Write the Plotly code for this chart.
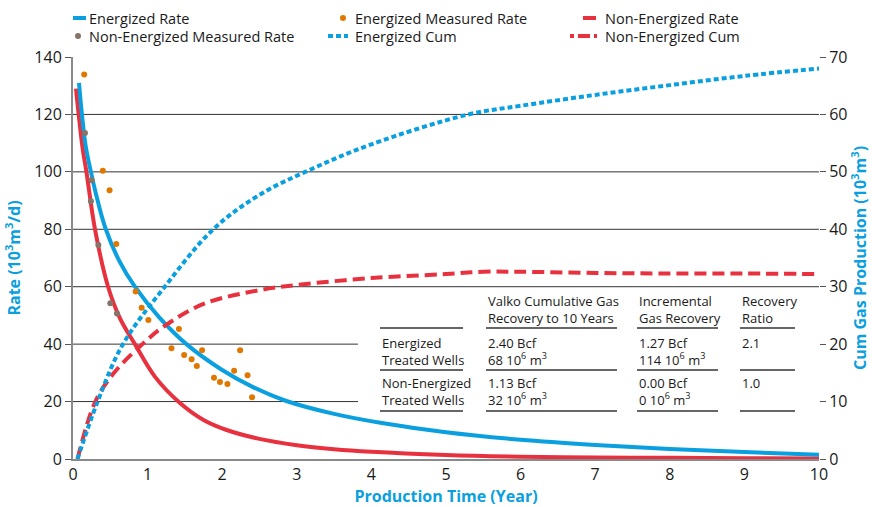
import plotly.graph_objects as go

# ---------------- data ----------------
ER_X = [0.08, 0.12, 0.17, 0.24, 0.33, 0.44, 0.62, 0.83, 1.15, 1.52, 2.0, 2.4, 2.86, 3.5, 4.12, 5.0, 6.0, 7.0, 8.0, 9.0, 10.0]
ER_Y = [131, 120, 109, 100, 90, 80, 69, 60, 49.5, 40, 31, 25.2, 20.2, 15.7, 12.6, 9.3, 6.7, 4.9, 3.5, 2.4, 1.5]

NR_X = [0.04, 0.08, 0.13, 0.18, 0.295, 0.47, 0.63, 0.83, 1.1, 1.43, 1.75, 2.06, 2.5, 3.0, 3.5, 4.0, 5.0, 6.0, 7.0, 8.0, 9.0, 10.0]
NR_Y = [129, 119, 108, 100, 80, 60, 49, 40, 28.6, 19.6, 13.6, 10.1, 7.0, 4.8, 3.4, 2.5, 1.4, 0.8, 0.5, 0.4, 0.3, 0.2]

EM_X = [0.15, 0.40, 0.49, 0.58, 0.84, 0.92, 1.01, 1.32, 1.42, 1.49, 1.59, 1.66, 1.73, 1.89, 1.97, 2.07, 2.16, 2.24, 2.34, 2.40]
EM_Y = [133.9, 100.4, 93.6, 74.9, 58.3, 52.7, 48.4, 38.6, 45.3, 36.2, 34.7, 32.4, 37.9, 28.3, 26.8, 26.1, 30.7, 37.9, 29.2, 21.5]

NM_X = [0.16, 0.25, 0.24, 0.34, 0.50, 0.59]
NM_Y = [113.5, 97.1, 89.8, 74.5, 54.2, 50.7]

EC_X = [0.06, 0.33, 0.67, 1.23, 1.88, 2.5, 3.2, 4.0, 5.3, 6.0, 7.0, 8.0, 9.0, 10.0]
EC_Y = [0, 10, 20, 30, 40, 46, 50.5, 54.8, 60, 61.5, 63.4, 65.1, 66.7, 68]

NC_X = [0.06, 0.3, 0.55, 0.93, 1.21, 1.75, 2.5, 3.0, 4.0, 5.0, 5.5, 6.0, 7.0, 8.0, 9.0, 10.0]
NC_Y = [0, 10, 15, 20, 23, 27, 29.4, 30.3, 31.5, 32.2, 32.6, 32.6, 32.4, 32.3, 32.3, 32.2]

GRID_VALUES = [20, 40, 60, 80, 100, 120]

SERIES_NAMES = ["Energized Rate", "Energized Measured Rate", "Non-Energized Rate",
                "Non-Energized Measured Rate", "Energized Cum", "Non-Energized Cum"]

TABLE_HEADERS = ["", "Valko Cumulative Gas<br>Recovery to 10 Years", "Incremental<br>Gas Recovery", "Recovery<br>Ratio"]
TABLE_ROW1 = ["Energized<br>Treated Wells", "2.40 Bcf<br>68 10<sup>6</sup> m<sup>3</sup>", "1.27 Bcf<br>114 10<sup>6</sup> m<sup>3</sup>", "2.1"]
TABLE_ROW2 = ["Non-Energized<br>Treated Wells", "1.13 Bcf<br>32 10<sup>6</sup> m<sup>3</sup>", "0.00 Bcf<br>0 10<sup>6</sup> m<sup>3</sup>", "1.0"]

# ---------------- styles ----------------
BLUE = "#0AA0E0"
RED = "#E8313F"
ORANGE = "#E07800"
GRAY = "#857468"
FONT = "Open Sans"
TXT = "#1a1a1a"

STYLE = {
    "Energized Rate": dict(kind="line", color=BLUE, dash="solid"),
    "Energized Measured Rate": dict(kind="dot", color=ORANGE),
    "Non-Energized Rate": dict(kind="line", color=RED, dash="solid"),
    "Non-Energized Measured Rate": dict(kind="dot", color=GRAY),
    "Energized Cum": dict(kind="line", color=BLUE, dash="5px,3px"),
    "Non-Energized Cum": dict(kind="line", color=RED, dash="4px,4px,12px,4px"),
}

fig = go.Figure()

fig.add_trace(go.Scatter(x=NC_X, y=NC_Y, yaxis="y2", mode="lines", name=SERIES_NAMES[5],
                         line=dict(color=RED, width=4, dash="12px,6px", shape="spline")))
fig.add_trace(go.Scatter(x=EC_X, y=EC_Y, yaxis="y2", mode="lines", name=SERIES_NAMES[4],
                         line=dict(color=BLUE, width=4, dash="5px,3px", shape="spline")))
fig.add_trace(go.Scatter(x=NR_X, y=NR_Y, mode="lines", name=SERIES_NAMES[2],
                         line=dict(color=RED, width=4, shape="spline")))
fig.add_trace(go.Scatter(x=ER_X, y=ER_Y, mode="lines", name=SERIES_NAMES[0],
                         line=dict(color=BLUE, width=4, shape="spline")))
fig.add_trace(go.Scatter(x=NM_X, y=NM_Y, mode="markers", name=SERIES_NAMES[3],
                         marker=dict(color=GRAY, size=6)))
fig.add_trace(go.Scatter(x=EM_X, y=EM_Y, mode="markers", name=SERIES_NAMES[1],
                         marker=dict(color=ORANGE, size=6)))

shapes = []
annotations = []

# grid lines
for g in GRID_VALUES:
    shapes.append(dict(type="line", xref="paper", yref="y", x0=0, x1=1, y0=g, y1=g,
                       line=dict(color="#333333", width=1), layer="between"))
# table background
shapes.append(dict(type="rect", xref="x", yref="y", x0=3.82, x1=10.05, y0=15.3, y1=58.5,
                   fillcolor="white", line=dict(width=0), layer="between"))

# table rules and text
col_x = [4.115, 5.536, 7.56, 8.94]
col_x1 = [5.228, 7.292, 8.646, 9.678]
line_ys = [45.6, 31.0, 16.7]
for ly in line_ys:
    for a, b in zip(col_x, col_x1):
        shapes.append(dict(type="line", xref="x", yref="y", x0=a, x1=b, y0=ly, y1=ly,
                           line=dict(color="#333333", width=1.5), layer="between"))
first_line_y = [55.0, 40.4, 26.5]     # centre of first text line of each row (rate units)
half_line = 2.96                      # half of one text line height (rate units)
for fy, row in zip(first_line_y, [TABLE_HEADERS, TABLE_ROW1, TABLE_ROW2]):
    for cx, txt in zip(col_x, row):
        if not txt:
            continue
        yc = fy - half_line if "<br>" in txt else fy
        annotations.append(dict(x=cx, y=yc, xref="x", yref="y", text=txt, showarrow=False,
                                xanchor="left", yanchor="middle", align="left",
                                font=dict(family=FONT, size=13, color=TXT)))

# custom legend (3 columns x 2 rows) in paper coordinates
legend_pos = [
    (0.0, 0.0174, 0.0194, 1.097),
    (0.3619, 0.3619, 0.3747, 1.097),
    (0.6836, 0.7011, 0.7098, 1.097),
    (0.0067, 0.0067, 0.0194, 1.052),
    (0.3418, 0.3686, 0.3747, 1.052),
    (0.6662, 0.7024, 0.7098, 1.052),
]
for name, (k0, k1, tx, ry) in zip(SERIES_NAMES, legend_pos):
    st = STYLE[name]
    if st["kind"] == "line":
        shapes.append(dict(type="line", xref="paper", yref="paper", x0=k0, x1=k1, y0=ry, y1=ry,
                           line=dict(color=st["color"], width=4, dash=st["dash"])))
    else:
        shapes.append(dict(type="circle", xref="paper", yref="paper",
                           xsizemode="pixel", ysizemode="pixel", xanchor=k0, yanchor=ry,
                           x0=-3, x1=3, y0=-3, y1=3,
                           fillcolor=st["color"], line=dict(width=0)))
    annotations.append(dict(x=tx, y=ry, xref="paper", yref="paper", text=name, showarrow=False,
                            xanchor="left", yanchor="middle", align="left",
                            font=dict(family=FONT, size=14.5, color=TXT)))

fig.update_layout(
    width=872, height=507,
    margin=dict(l=73, r=53, t=57, b=48),
    paper_bgcolor="white", plot_bgcolor="white",
    showlegend=False,
    font=dict(family=FONT, size=16, color=TXT),
    shapes=shapes, annotations=annotations,
    xaxis=dict(range=[0, 10], dtick=1, showgrid=False, zeroline=False, automargin=False,
               showline=True, linecolor="#8a8a8a", linewidth=2, ticks="",
               tickfont=dict(family=FONT, size=16, color=TXT),
               title=dict(text="Production Time (Year)", standoff=2,
                          font=dict(family=FONT, size=16, color=BLUE, weight="bold"))),
    yaxis=dict(range=[0, 140], dtick=20, showgrid=False, zeroline=False, automargin=False,
               showline=True, linecolor="#8a8a8a", linewidth=2,
               ticks="outside", ticklen=6, tickcolor="#555555",
               tickfont=dict(family=FONT, size=16, color=TXT),
               title=dict(text="Rate (10<sup>3</sup>m<sup>3</sup>/d)", standoff=10,
                          font=dict(family=FONT, size=16, color=BLUE, weight="bold"))),
    yaxis2=dict(range=[0, 70], dtick=10, overlaying="y", side="right", automargin=False,
                showgrid=False, zeroline=False, showline=False,
                ticks="outside", ticklen=6, tickcolor="#555555",
                tickfont=dict(family=FONT, size=16, color=TXT),
                title=dict(text="Cum Gas Production (10<sup>3</sup>m<sup>3</sup>)", standoff=3,
                           font=dict(family=FONT, size=16, color=BLUE, weight="bold"))),
)

fig.write_html("out.html", config={"displayModeBar": False},
               post_script="document.body.style.margin='0';document.body.style.overflow='hidden';")
